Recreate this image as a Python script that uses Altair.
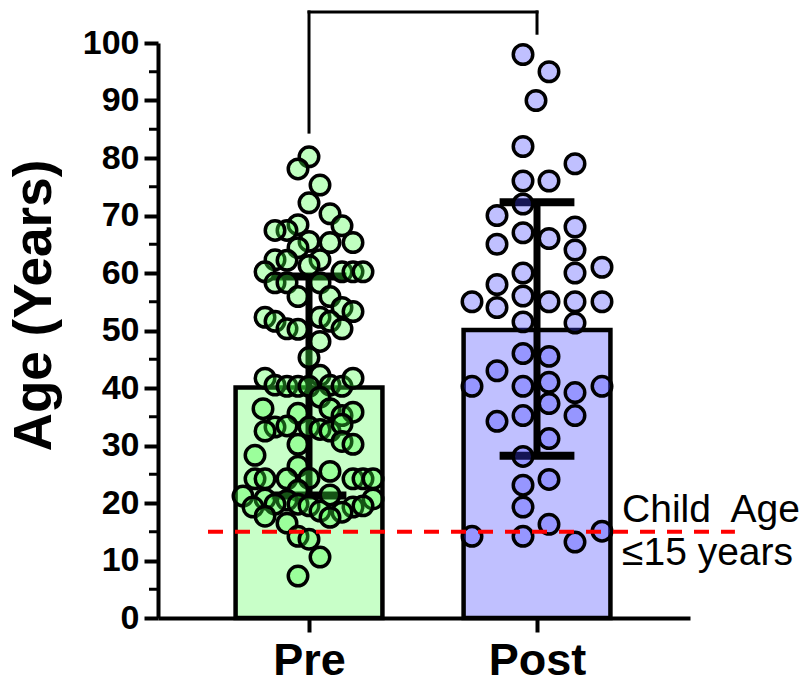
import altair as alt
import pandas as pd

FONT = "Liberation Sans"

# ---------------- data ----------------
groups = ["Pre", "Post"]
group_pos = [1, 2]
bar_mean = [40.1, 50.1]
bar_sd_low = [21.3, 28.2]
bar_sd_high = [59.4, 72.3]
bar_colors = ["#c8ffc8", "#c0c0ff"]
point_colors = ["#40ff40", "#4040ff"]

# beeswarm offsets (in category units) and ages
pre_offset = [0, -11, 11, 0, 21, 33, -11, -22, -34, 0, 21, 44, -11, -34, -22, 11, 0, -44, 33, 44,
              54, -34, -22, 11, -11, 21, 33, 44, -44, -34, -22, -11, 11, 21, 33, 11, 0, 11, -44, -34,
              -22, -11, 0, 21, 33, 44, 11, -46, 21, -11, 33, 44, -34, -22, 0, 11, -44, 21, 33, 33,
              44, -11, -54, -11, 21, -54, -44, -22, 0, 44, 54, 64, -11, -66, -44, -22, 21, 64, -56, -34,
              -11, 0, 44, 54, 11, 33, -44, 21, -22, -11, 0, 11, -11]
pre_age = [80.2, 78.1, 75.3, 72.2, 70.3, 68.2, 68.4, 67.4, 67.4, 65.5, 65.3, 65.3, 64.4, 62.3, 62.2, 62.3, 61.3, 60.2, 60.2, 60.2,
           60.2, 58.3, 58.3, 58.3, 55.9, 55.9, 54.0, 53.3, 52.3, 51.6, 50.3, 50.2, 52.3, 51.6, 50.3, 48.1, 45.3, 42.2, 41.7, 40.5,
           40.3, 40.3, 40.3, 40.5, 40.3, 41.7, 38.4, 36.4, 36.4, 35.6, 35.2, 35.8, 33.2, 33.4, 33.2, 32.8, 32.5, 32.5, 33.7, 30.7,
           30.2, 30.2, 28.3, 26.4, 25.5, 24.2, 24.2, 24.2, 24.3, 24.2, 24.2, 24.2, 22.2, 21.2, 20.7, 20.5, 21.4, 20.7, 19.3, 19.8,
           19.8, 19.5, 19.3, 19.5, 18.6, 18.4, 17.7, 17.5, 16.5, 14.2, 13.7, 10.6, 7.3]

post_offset = [-14, 12, -1, -14, 38, -14, 12, -14, -40, -14, 12, 38, -40, 38, 65, -14, 38, -40, -65, -14,
               -40, 12, 38, 65, -14, 38, -14, 12, -40, -65, -14, 12, 38, 65, 12, -14, -40, 38, 12, -14,
               12, -14, -14, 12, -65, -14, 38, 65]
post_age = [98.0, 95.0, 90.0, 82.0, 79.0, 76.0, 76.0, 72.0, 70.0, 67.0, 66.0, 68.0, 65.0, 64.0, 61.0, 60.0, 60.0, 58.0, 55.0, 56.0,
            54.0, 55.0, 55.0, 55.0, 51.5, 51.3, 46.0, 45.5, 43.0, 40.3, 40.3, 41.0, 39.2, 40.3, 37.3, 35.2, 34.2, 35.2, 31.2, 28.1,
            24.1, 23.1, 19.3, 16.3, 14.2, 14.2, 13.2, 15.1]

child_age_limit = 15
annotation_lines = ["Child\u00a0 Age", "\u226415 years"]
y_ticks = list(range(0, 101, 10))
y_minor = list(range(5, 100, 10))

# ---------------- layout constants ----------------
PX_PER_GROUP = 228.0
X_DOMAIN = [0.3377, 2.671]
Y_DOMAIN = [0, 100]
BAR_HALF = 0.322
CAP_HALF = 0.164

xs = alt.Scale(domain=X_DOMAIN, nice=False, zero=False)
ys = alt.Scale(domain=Y_DOMAIN, nice=False, zero=False)

bars_df = pd.DataFrame({
    "group": groups,
    "pos": group_pos,
    "mean": bar_mean,
    "low": bar_sd_low,
    "high": bar_sd_high,
    "barfill": bar_colors,
})
bars_df["x0"] = bars_df["pos"] - BAR_HALF
bars_df["x1"] = bars_df["pos"] + BAR_HALF
bars_df["c0"] = bars_df["pos"] - CAP_HALF
bars_df["c1"] = bars_df["pos"] + CAP_HALF
bars_df["base"] = 0

pts = pd.concat([
    pd.DataFrame({"group": "Pre", "x": [1 + o / PX_PER_GROUP for o in pre_offset], "age": pre_age,
                  "ptfill": point_colors[0]}),
    pd.DataFrame({"group": "Post", "x": [2 + o / PX_PER_GROUP for o in post_offset], "age": post_age,
                  "ptfill": point_colors[1]}),
], ignore_index=True)

y_axis = alt.Axis(
    values=y_ticks, title="Age (Years)", grid=False,
    labelFont=FONT, labelFontSize=34, labelFontWeight="bold", labelColor="black", labelPadding=5,
    tickSize=14, tickWidth=4, tickColor="black",
    domainWidth=4, domainColor="black",
    titleFont=FONT, titleFontSize=53, titleFontWeight="bold", titleColor="black",
    titleAngle=270, titleX=-124, titleY=262, titleAlign="center", titleBaseline="middle",
)
x_axis = alt.Axis(
    values=group_pos, title=None, grid=False,
    labelExpr="datum.value == 1 ? 'Pre' : 'Post'",
    labelFont=FONT, labelFontSize=45, labelFontWeight="bold", labelColor="black", labelPadding=6,
    tickSize=14, tickWidth=4, tickColor="black",
    domainWidth=4, domainColor="black",
)


def X(field):
    return alt.X(field, scale=xs, axis=x_axis)


def Y(field):
    return alt.Y(field, scale=ys, axis=y_axis)


bars = alt.Chart(bars_df).mark_rect(stroke="black", strokeWidth=4.5).encode(
    x=X("x0:Q"), x2="x1:Q",
    y=Y("mean:Q"), y2="base:Q",
    fill=alt.Fill("barfill:N", scale=None),
)

err = alt.Chart(bars_df).mark_rule(color="black", strokeWidth=7).encode(
    x=X("pos:Q"), y=Y("low:Q"), y2="high:Q",
)
cap_hi = alt.Chart(bars_df).mark_rule(color="black", strokeWidth=8).encode(
    x=X("c0:Q"), x2="c1:Q", y=Y("high:Q"),
)
cap_lo = alt.Chart(bars_df).mark_rule(color="black", strokeWidth=8).encode(
    x=X("c0:Q"), x2="c1:Q", y=Y("low:Q"),
)

points = alt.Chart(pts).mark_circle(
    size=380, stroke="black", strokeWidth=3.5, strokeOpacity=1, fillOpacity=0.33, opacity=1
).encode(
    x=X("x:Q"), y=Y("age:Q"),
    fill=alt.Fill("ptfill:N", scale=None),
)

line_df = pd.DataFrame({"xa": [0.557], "xb": [2.868], "y": [child_age_limit]})
dashed = alt.Chart(line_df).mark_rule(color="#ff0000", strokeWidth=4, strokeDash=[15, 12]).encode(
    x=X("xa:Q"), x2="xb:Q", y=Y("y:Q"),
)

text_df = pd.DataFrame({"x": [2.373, 2.373], "y": [16.7, 9.2], "t": annotation_lines})
texts = alt.Chart(text_df).mark_text(
    align="left", baseline="alphabetic", font=FONT, fontSize=39, color="black"
).encode(
    x=X("x:Q"), y=Y("y:Q"), text="t:N",
)

bracket_df = pd.DataFrame({
    "xa": [1, 1, 2],
    "xb": [1, 2, 2],
    "ya": [84.5, 105.4, 105.4],
    "yb": [105.4, 105.4, 101.7],
})
bracket = alt.Chart(bracket_df).mark_rule(color="black", strokeWidth=3, strokeCap="square").encode(
    x=X("xa:Q"), x2="xb:Q", y=Y("ya:Q"), y2="yb:Q",
)

minor_df = pd.DataFrame({"v": y_minor})
minor = alt.Chart(minor_df).mark_rule(color="black", strokeWidth=3).encode(
    y=Y("v:Q"), x=alt.value(-9), x2=alt.value(-1),
)

chart = alt.layer(bars, err, cap_hi, cap_lo, points, dashed, texts, bracket, minor).properties(
    width=532, height=575,
    autosize=alt.AutoSizeParams(type="none"),
    padding={"left": 158, "top": 43, "right": 120, "bottom": 70},
    background="white",
).configure_view(strokeWidth=0)

chart.save("out.html", embed_options={"renderer": "svg", "actions": False})
